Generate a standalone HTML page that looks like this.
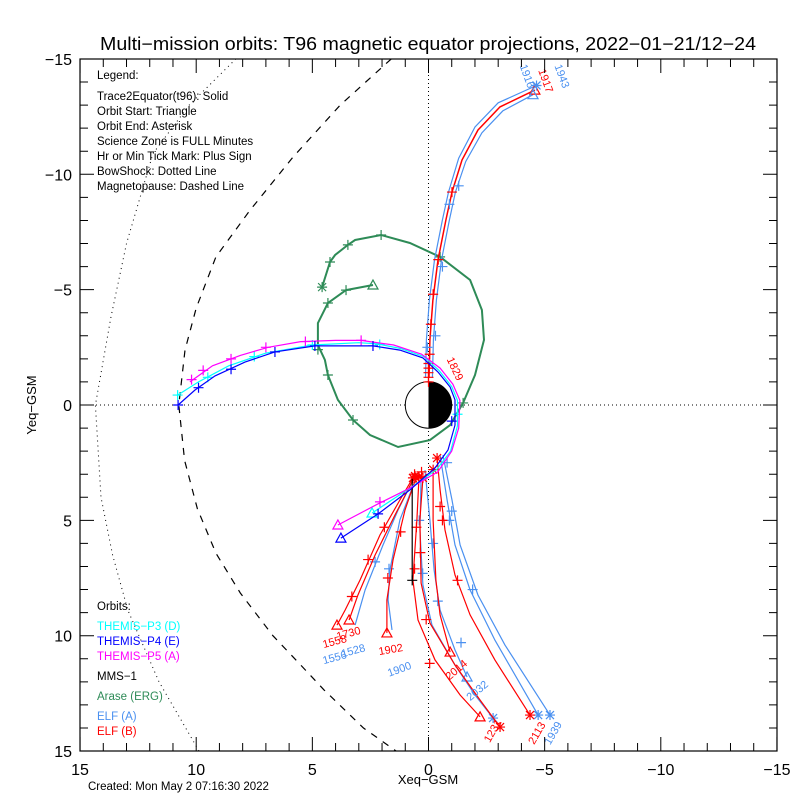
<!DOCTYPE html>
<html><head><meta charset="utf-8"><style>
body{margin:0;background:#fff}
svg{display:block;font-family:"Liberation Sans",sans-serif}
</style></head><body>
<svg id="c" width="800" height="800" viewBox="0 0 800 800">
<rect width="800" height="800" fill="#fff"/>
<defs><clipPath id="clip"><rect x="80" y="59" width="697" height="692"/></clipPath></defs>
<text x="100" y="50" textLength="656" lengthAdjust="spacingAndGlyphs" font-size="18">Multi−mission orbits: T96 magnetic equator projections, 2022−01−21/12−24</text>
<g id="plot" clip-path="url(#clip)"></g>
<g id="axes"></g>
<text x="428" y="784" text-anchor="middle" font-size="13">Xeq−GSM</text>
<text x="36" y="405" text-anchor="middle" font-size="13" transform="rotate(-90 36 405)">Yeq−GSM</text>
<g font-size="11.5">
<text x="97" y="79">Legend:</text>
<text x="97" y="100">Trace2Equator(t96): Solid</text>
<text x="97" y="115">Orbit Start: Triangle</text>
<text x="97" y="130">Orbit End: Asterisk</text>
<text x="97" y="145">Science Zone is FULL Minutes</text>
<text x="97" y="160">Hr or Min Tick Mark: Plus Sign</text>
<text x="97" y="175">BowShock: Dotted Line</text>
<text x="97" y="190">Magnetopause: Dashed Line</text>
<text x="97" y="610">Orbits:</text>
<text x="97" y="630" fill="#00ffff">THEMIS−P3 (D)</text>
<text x="97" y="645" fill="#0000ff">THEMIS−P4 (E)</text>
<text x="97" y="660" fill="#ff00ff">THEMIS−P5 (A)</text>
<text x="97" y="680" fill="#000">MMS−1</text>
<text x="97" y="700" fill="#2e8b57">Arase (ERG)</text>
<text x="97" y="720" fill="#4a90f0">ELF (A)</text>
<text x="97" y="735" fill="#ff0000">ELF (B)</text>
</g>
<text x="88" y="790" font-size="11.5">Created: Mon May  2 07:16:30 2022</text>
</svg>
<script>
const xTicks=[15,10,5,0,-5,-10,-15];
const yTicks=[-15,-10,-5,0,5,10,15];
const xTickLabels=["15","10","5","0","−5","−10","−15"];
const yTickLabels=["−15","−10","−5","0","5","10","15"];
const bowShock=[[8.29,-15],[10.3,-13],[11.86,-10.9],[13.0,-7],[13.67,-3.8],[14.34,0],[14.1,4],[13.6,6.5],[12.94,8.9],[11.6,12],[9.88,15]];
const magnetopause=[[1.6,-15],[3.8,-13],[5.83,-10.75],[7.68,-8.45],[9.15,-6.42],[10.0,-4.2],[10.48,-2.38],[10.75,0],[10.5,2.4],[9.95,4.5],[9.15,6.42],[8.1,8.15],[6.7,10],[5.5,11.27],[4.5,12.35],[2.8,14],[1.4,15]];
const thP4=[[3.77,5.77],[2.17,4.72],[0.8,3.68],[-0.28,2.73],[-0.84,1.95],[-1.14,0.87],[-1.14,-0.22],[-0.93,-0.78],[-0.41,-1.43],[0.24,-2.04],[1.23,-2.38],[2.39,-2.56],[4.89,-2.56],[6.61,-2.3],[7.9,-1.86],[9.19,-1.26],[10.05,-0.65],[10.78,0]];
const thP4Ticks=[[2.17,4.72],[-1.0,0.7],[2.39,-2.56],[4.89,-2.56],[6.61,-2.3],[8.5,-1.55],[9.9,-0.75],[10.78,0]];
const thP3=[[2.43,4.68],[0.8,3.6],[-0.35,2.8],[-0.95,2.0],[-1.25,0.9],[-1.25,-0.2],[-1.0,-0.8],[-0.45,-1.5],[0.2,-2.1],[1.2,-2.45],[2.2,-2.65],[3.0,-2.7],[5.0,-2.6],[7.0,-2.25],[8.6,-1.7],[9.9,-1.0],[10.8,-0.43]];
const thP3Ticks=[[-1.25,0.4],[2.1,-2.62],[5.0,-2.6],[7.5,-2.1],[9.5,-1.2],[10.8,-0.43]];
const thP5=[[3.9,5.2],[2.2,4.3],[0.8,3.6],[-0.4,2.9],[-1.0,2.0],[-1.3,1.0],[-1.35,-0.2],[-1.05,-0.9],[-0.5,-1.6],[0.3,-2.2],[1.5,-2.6],[2.9,-2.8],[4.0,-2.8],[5.5,-2.75],[6.9,-2.5],[8.1,-2.15],[9.3,-1.7],[10.27,-1.0]];
const thP5Ticks=[[2.09,4.2],[2.9,-2.8],[5.3,-2.75],[7.0,-2.5],[8.5,-2.0],[9.7,-1.5],[10.2,-1.1]];
const arase=[[2.39,-5.2],[3.55,-4.98],[4.33,-4.42],[4.76,-3.55],[4.76,-2.6],[4.46,-1.95],[4.33,-1.3],[3.9,-0.22],[3.25,0.65],[2.52,1.3],[1.31,1.82],[-0.06,1.52],[-0.93,0.87],[-1.49,-0.09],[-2.0,-1.3],[-2.39,-2.82],[-2.3,-4.12],[-1.79,-5.42],[-0.5,-6.42],[0.8,-7.02],[2.04,-7.37],[3.16,-7.15],[3.47,-6.94],[4.02,-6.5],[4.24,-6.2],[4.58,-5.11]];
const araseTicks=[[3.55,-4.98],[4.33,-4.42],[4.33,-1.3],[3.25,0.65],[-1.49,-0.09],[-0.5,-6.42],[2.04,-7.37],[3.47,-6.94],[4.24,-6.2],[4.76,-2.4]];
const elfBUpper=[[-0.02,-1.17],[-0.06,-2.82],[-0.19,-4.55],[-0.41,-6.29],[-0.75,-8.02],[-1.01,-9.23],[-1.44,-10.62],[-2.13,-11.92],[-3.08,-12.92],[-4.58,-13.65]];
const elfAUpper1=[[-0.17,-1.17],[-0.21,-2.82],[-0.34,-4.55],[-0.56,-6.29],[-0.9,-8.02],[-1.16,-9.23],[-1.6,-10.55],[-2.3,-11.8],[-3.2,-12.75],[-4.5,-13.45]];
const elfAUpper2=[[0.13,-1.17],[0.09,-2.82],[-0.04,-4.55],[-0.26,-6.29],[-0.6,-8.02],[-0.86,-9.23],[-1.3,-10.7],[-2.0,-12.05],[-3.0,-13.1],[-4.65,-13.85]];
const elfBUpperTicks=[[0,-1.0],[0,-1.2],[0,-1.4],[0,-1.6],[0,-1.8],[-0.05,-2.2],[-0.1,-3.5],[-0.2,-4.8],[-0.42,-6.3],[-1.01,-9.23]];
const elfAUpperTicks=[[-0.3,-3.0],[-0.6,-6.0],[-0.9,-8.7],[-1.3,-9.5],[0.05,-2.5]];
const elfBLower=[
[[0.67,3.16],[1.23,4.12],[2.09,5.64],[2.95,7.59],[3.59,8.89],[3.94,9.54]],
[[0.58,3.08],[1.44,4.77],[2.3,6.5],[3.04,8.24],[3.42,9.32]],
[[0.54,3.16],[1.01,4.55],[1.53,6.72],[1.79,8.45],[1.79,9.88]],
[[0.41,3.12],[0.5,4.98],[0.67,7.59],[0.45,9.32],[-0.28,11.05],[-1.36,12.57],[-2.22,13.52]],
[[0.24,3.16],[0.37,4.98],[0.32,7.72],[-0.06,9.45],[-1.14,11.27],[-2.22,12.79],[-3.08,13.96]],
[[-0.2,2.8],[-0.2,4.98],[-0.32,7.59],[-0.5,9.1],[-0.93,10.71]],
[[-0.37,2.3],[-0.5,3.68],[-0.71,5.42],[-1.14,7.37],[-1.79,9.1],[-2.86,11.05],[-4.37,13.44]]];
const elfBLowerEnds=["tri","tri","tri","tri","ast","tri","ast"];
const elfBLowerTicks=[[1.9,5.3],[2.6,6.7],[3.3,8.3],[1.2,5.5],[1.75,7.5],[0.52,5.3],[0.6,7.1],[0.35,6.4],[0.1,9.3],[-0.5,4.4],[-0.6,5.0],[-1.25,7.6],[-0.05,11.2],[0.6,3.0],[0.3,2.9]];
const elfALower=[
[[0.62,3.16],[1.31,4.55],[1.96,6.07],[2.73,8.02],[3.16,9.54]],
[[0.5,3.08],[1.23,4.98],[1.66,7.15],[1.74,8.45],[1.57,9.75]],
[[0.32,3.08],[0.37,5.42],[0.24,7.8],[-0.15,9.54],[-1.14,11.27],[-2.0,12.57],[-2.78,13.57]],
[[0.15,2.82],[-0.06,4.98],[-0.24,7.15],[-0.5,8.89],[-1.14,10.62],[-1.66,11.79]],
[[-0.5,2.17],[-0.8,4.12],[-1.14,6.07],[-1.79,8.02],[-2.86,10.19],[-4.72,13.44]],
[[-0.62,2.17],[-1.01,4.12],[-1.36,6.07],[-2.13,8.24],[-3.29,10.4],[-5.23,13.44]]];
const elfALowerEnds=["none","none","ast","tri","ast","ast"];
const elfALowerTicks=[[2.3,6.8],[1.7,7.1],[0.25,7.3],[-0.4,8.5],[-0.2,6.0],[-0.9,5.0],[-1.0,4.6],[-1.9,8.0],[-0.8,2.5],[0.4,5.0],[-1.4,10.3]];
const mms=[[0.7,3.2],[0.7,5.5],[0.7,7.6]];
const labels=[
["1558",4.0,10.4,"#ff0000",-15],["1730",3.4,10.05,"#ff0000",-15],["1902",1.6,10.75,"#ff0000",-10],["2014",-1.3,11.6,"#ff0000",-40],["1231",-2.9,14.2,"#ff0000",-60],["2113",-4.8,14.3,"#ff0000",-60],["1917",-4.9,-14.0,"#ff0000",70],["1829",-1.0,-1.5,"#ff0000",65],
["1556",4.0,11.1,"#4a90f0",-15],["1528",3.2,10.8,"#4a90f0",-15],["1900",1.2,11.6,"#4a90f0",-20],["2032",-2.2,12.5,"#4a90f0",-40],["1939",-5.5,14.3,"#4a90f0",-60],["1916",-4.1,-14.2,"#4a90f0",70],["1943",-5.6,-14.2,"#4a90f0",70]];

const NS='http://www.w3.org/2000/svg';
const sx=x=>428.5-x*23.23, sy=y=>405+y*23.07;
const plot=document.getElementById('plot'), axes=document.getElementById('axes');
function mk(tag,attrs,parent){const e=document.createElementNS(NS,tag);for(const k in attrs)e.setAttribute(k,attrs[k]);parent.appendChild(e);return e;}
function line(pts,color,w,dash,name){const e=mk('polyline',{points:pts.map(p=>sx(p[0]).toFixed(1)+','+sy(p[1]).toFixed(1)).join(' '),fill:'none',stroke:color,'stroke-width':w},plot);if(dash)e.setAttribute('stroke-dasharray',dash);

}
function plus(p,color,name){const x=sx(p[0]),y=sy(p[1]);const e=mk('path',{d:`M${x-5},${y}h10M${x},${y-5}v10`,stroke:color,'stroke-width':1.2,fill:'none'},plot);

}
function tri(p,color,name){const x=sx(p[0]),y=sy(p[1]);const e=mk('path',{d:`M${x-5},${y+4}L${x+5},${y+4}L${x},${y-5}Z`,stroke:color,'stroke-width':1.2,fill:'none'},plot);

}
function ast(p,color,name){const x=sx(p[0]),y=sy(p[1]);const e=mk('path',{d:`M${x-5},${y}h10M${x},${y-5}v10M${x-4},${y-4}l8,8M${x-4},${y+4}l8,-8`,stroke:color,'stroke-width':1.2,fill:'none'},plot);

}

const zx=mk('line',{x1:sx(0),x2:sx(0),y1:59,y2:751,stroke:'#000','stroke-dasharray':'1 3'},plot);


const zy=mk('line',{x1:80,x2:777,y1:sy(0),y2:sy(0),stroke:'#000','stroke-dasharray':'1 3'},plot);


line(bowShock,'#000',1,'1 4','bow-shock');
line(magnetopause,'#000',1.2,'7 7','magnetopause');

const r=23.2, ex=sx(0), ey=sy(0);
const e1=mk('circle',{cx:ex,cy:ey,r:r,fill:'#fff',stroke:'#000','stroke-width':1},plot);


const e2=mk('path',{d:`M${ex},${ey-r}A${r},${r} 0 0 1 ${ex},${ey+r}Z`,fill:'#000'},plot);



line(arase,'#2e8b57',2,null,'arase-orbit');
araseTicks.forEach(p=>plus(p,'#2e8b57','arase-tick'));
tri(arase[0],'#2e8b57','arase-start');ast(arase[arase.length-1],'#2e8b57','arase-end');

elfALower.forEach((t,i)=>{line(t,'#4a90f0',1.2,null,'elf-a-trace');const e=t[t.length-1];if(elfALowerEnds[i]==='tri')tri(e,'#4a90f0','elf-a-start');if(elfALowerEnds[i]==='ast')ast(e,'#4a90f0','elf-a-end');});
elfALowerTicks.forEach(p=>plus(p,'#4a90f0','elf-a-tick'));
elfBLower.forEach((t,i)=>{line(t,'#ff0000',1.2,null,'elf-b-trace');const e=t[t.length-1];if(elfBLowerEnds[i]==='tri')tri(e,'#ff0000','elf-b-start');else ast(e,'#ff0000','elf-b-end');ast(t[0],'#ff0000','elf-b-foot');});
elfBLowerTicks.forEach(p=>plus(p,'#ff0000','elf-b-tick'));
line(mms,'#000',1.2,null,'mms1-trace');
plus(mms[2],'#000','mms1-tick');

line(elfAUpper1,'#4a90f0',1.2,null,'elf-a-upper-trace');
line(elfAUpper2,'#4a90f0',1.2,null,'elf-a-upper-trace');
line(elfBUpper,'#ff0000',1.5,null,'elf-b-upper-trace');
elfAUpperTicks.forEach(p=>plus(p,'#4a90f0','elf-a-tick'));
elfBUpperTicks.forEach(p=>plus(p,'#ff0000','elf-b-tick'));
tri(elfBUpper[elfBUpper.length-1],'#ff0000','elf-b-upper-start');
tri(elfAUpper1[elfAUpper1.length-1],'#4a90f0','elf-a-upper-start');
ast(elfAUpper2[elfAUpper2.length-1],'#4a90f0','elf-a-upper-end');

line(thP3,'#00ffff',1.2,null,'themis-p3-orbit');thP3Ticks.forEach(p=>plus(p,'#00ffff','themis-p3-tick'));tri(thP3[0],'#00ffff','themis-p3-start');
line(thP5,'#ff00ff',1.2,null,'themis-p5-orbit');thP5Ticks.forEach(p=>plus(p,'#ff00ff','themis-p5-tick'));tri(thP5[0],'#ff00ff','themis-p5-start');
line(thP4,'#0000ff',1.2,null,'themis-p4-orbit');thP4Ticks.forEach(p=>plus(p,'#0000ff','themis-p4-tick'));tri(thP4[0],'#0000ff','themis-p4-start');

labels.forEach(l=>{const x=sx(l[1]),y=sy(l[2]);const t=mk('text',{x:x,y:y,fill:l[3],'font-size':11,'text-anchor':'middle',transform:`rotate(${l[4]} ${x} ${y})`},plot);t.textContent=l[0];

});

const box=mk('rect',{x:80,y:59,width:697,height:692,fill:'none',stroke:'#000','stroke-width':1.2},axes);


let d='';
for(let v=-15;v<=15;v++){const L=(v%5===0)?14:8;const x=sx(v),y=sy(v);d+=`M${x},751v${-L}M${x},59v${L}M80,${y}h${L}M777,${y}h${-L}`;}
const tk=mk('path',{d:d,stroke:'#000','stroke-width':1,fill:'none'},axes);


xTicks.forEach((v,i)=>{const t=mk('text',{x:sx(v),y:775,'text-anchor':'middle','font-size':16},axes);t.textContent=xTickLabels[i];

});
yTicks.forEach((v,i)=>{const t=mk('text',{x:72,y:sy(v)+6,'text-anchor':'end','font-size':16},axes);t.textContent=yTickLabels[i];

});
</script>
</body></html>
